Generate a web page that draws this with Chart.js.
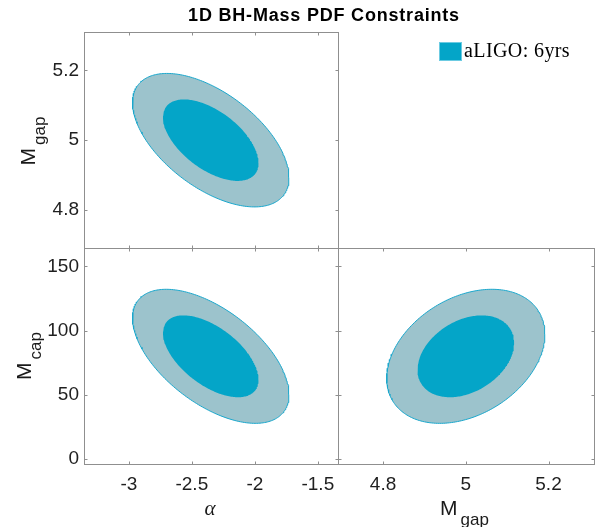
<!DOCTYPE html>
<html>
<head>
<meta charset="utf-8">
<title>1D BH-Mass PDF Constraints</title>
<script src="https://cdn.jsdelivr.net/npm/chart.js@4.4.1/dist/chart.umd.min.js"></script>
<style>
  body { margin: 0; background: #fff; }
  #wrap { position: relative; width: 597px; height: 527px; overflow: hidden; font-family: "Liberation Sans", Arial, sans-serif; }
  canvas { position: absolute; }
  .txt { position: absolute; white-space: nowrap; color: #1a1a1a; }
  .title { left: 324px; top: 6px; transform: translateX(-50%); font-weight: bold; font-size: 18px; line-height: 18px; letter-spacing: 0.8px; color: #000; }
  .mlab { font-size: 21px; line-height: 21px; }
  .mlab .sub { font-size: 17px; position: relative; top: 10px; margin-left: 3px; }
  .rot { transform: translate(-50%, -50%) rotate(-90deg); }
  .alpha { font-family: "Liberation Serif", serif; font-style: italic; font-size: 21px; line-height: 21px; transform: translateX(-50%); }
  .legbox { position: absolute; left: 439px; top: 42px; width: 23px; height: 19px; box-sizing: border-box; background: #04a5c8; border: 1px solid #6ccbe2; }
  .legtxt { left: 464px; top: 40px; font-family: "Liberation Serif", serif; font-size: 20px; line-height: 20px; letter-spacing: 0.4px; color: #000; }
</style>
</head>
<body>
<div id="wrap">
  <canvas id="cTL" width="360" height="270" style="left:0;top:0"></canvas>
  <canvas id="cBL" width="360" height="301" style="left:0;top:226px"></canvas>
  <canvas id="cBR" width="281" height="301" style="left:316px;top:226px"></canvas>

  <div class="txt title">1D BH-Mass PDF Constraints</div>
  <div class="txt mlab rot" style="left:28px;top:141px">M<span class="sub">gap</span></div>
  <div class="txt mlab rot" style="left:24px;top:356px">M<span class="sub">cap</span></div>
  <div class="txt mlab" style="left:440px;top:497px">M<span class="sub">gap</span></div>
  <div class="txt alpha" style="left:210px;top:498px">α</div>
  <div class="legbox"></div>
  <div class="txt legtxt">aLIGO: 6yrs</div>
</div>

<script>
// parameters: alpha, M_gap, M_cap
const paramNames = ['alpha', 'Mgap', 'Mcap'];
const paramCenters = [-2.35, 5.0, 80];
const paramSigmas = [0.25, 0.077, 21];

// correlation coefficients
const corrAlphaGap = -0.56;
const corrAlphaCap = -0.57;
const corrGapCap = 0.33;

// delta chi^2 for 2D 68% / 95% contours
const contourLevels = [2.30, 6.17];

// axes
const alphaRange = [-3.356, -1.34];
const gapRange = [4.691, 5.31];
const capRange = [-3.8, 164.3];
const alphaTicks = [-3, -2.5, -2, -1.5];
const alphaTickLabels = ['-3', '-2.5', '-2', '-1.5'];
const gapTicks = [4.8, 5, 5.2];
const gapTickLabels = ['4.8', '5', '5.2'];
const capTicks = [0, 50, 100, 150];
const capTickLabels = ['0', '50', '100', '150'];

const innerColor = '#04a5c8';
const outerColor = '#9cc3cc';
const edgeColor = '#1aa7cc';
const axisColor = '#8f8f8f';
const labelColor = '#1f1f1f';
const tickFont = { family: '"Liberation Sans", Arial, sans-serif', size: 19 };

// contour outline for a pair of parameters
function ellipsePoints(ix, iy, rho, level) {
  const pts = [];
  const k = Math.sqrt(level);
  const sx = paramSigmas[ix], sy = paramSigmas[iy];
  const mx = paramCenters[ix], my = paramCenters[iy];
  const s = Math.sqrt(1 - rho * rho);
  for (let i = 0; i <= 240; i++) {
    const t = i / 240 * 2 * Math.PI;
    pts.push({
      x: mx + k * sx * Math.cos(t),
      y: my + k * sy * (rho * Math.cos(t) + s * Math.sin(t))
    });
  }
  return pts;
}

function contourDatasets(ix, iy, rho) {
  return [
    {
      data: ellipsePoints(ix, iy, rho, contourLevels[0]),
      showLine: true, fill: 'shape', tension: 0,
      backgroundColor: innerColor, borderWidth: 0, pointRadius: 0
    },
    {
      data: ellipsePoints(ix, iy, rho, contourLevels[1]),
      showLine: true, fill: 'shape', tension: 0,
      backgroundColor: outerColor, borderColor: edgeColor, borderWidth: 1, pointRadius: 0
    }
  ];
}

// box with inward ticks on all sides
const boxPlugin = {
  id: 'box',
  afterDraw(chart) {
    const { ctx, chartArea: a, scales: { x, y } } = chart;
    const L = Math.round(a.left) + 0.5, R = Math.round(a.right) + 0.5;
    const T = Math.round(a.top) + 0.5, B = Math.round(a.bottom) + 0.5;
    const len = 3;
    ctx.save();
    ctx.strokeStyle = axisColor;
    ctx.lineWidth = 1;
    ctx.strokeRect(L, T, R - L, B - T);
    ctx.beginPath();
    x.ticks.forEach(t => {
      const px = Math.round(x.getPixelForValue(t.value)) + 0.5;
      ctx.moveTo(px, B); ctx.lineTo(px, B - len);
      ctx.moveTo(px, T); ctx.lineTo(px, T + len);
    });
    y.ticks.forEach(t => {
      const py = Math.round(y.getPixelForValue(t.value)) + 0.5;
      ctx.moveTo(L, py); ctx.lineTo(L + len, py);
      ctx.moveTo(R, py); ctx.lineTo(R - len, py);
    });
    ctx.stroke();
    ctx.restore();
  }
};

function axis(range, tickVals, tickLabels, showLabels, size, isX) {
  return {
    type: 'linear',
    min: range[0],
    max: range[1],
    afterBuildTicks: s => { s.ticks = tickVals.map(v => ({ value: v })); },
    afterFit: s => { if (isX) s.height = size; else s.width = size; },
    grid: { display: false, drawTicks: false },
    border: { display: false },
    ticks: {
      display: showLabels,
      autoSkip: false,
      maxRotation: 0,
      padding: isX ? 9 : 5,
      color: labelColor,
      font: tickFont,
      callback: (v, i) => tickLabels[i]
    }
  };
}

function makePanel(id, datasets, xAxis, yAxis, padding) {
  return new Chart(document.getElementById(id), {
    type: 'scatter',
    data: { datasets: datasets },
    options: {
      responsive: false,
      animation: false,
      devicePixelRatio: 1,
      layout: { padding: padding },
      plugins: { legend: { display: false }, tooltip: { enabled: false } },
      scales: { x: xAxis, y: yAxis }
    },
    plugins: [boxPlugin]
  });
}

// alpha vs M_gap
makePanel('cTL', contourDatasets(0, 1, corrAlphaGap),
  axis(alphaRange, alphaTicks, alphaTickLabels, false, 22, true),
  axis(gapRange, gapTicks, gapTickLabels, true, 84, false),
  { top: 32, right: 22, left: 0, bottom: 0 });

// alpha vs M_cap
makePanel('cBL', contourDatasets(0, 2, corrAlphaCap),
  axis(alphaRange, alphaTicks, alphaTickLabels, true, 63, true),
  axis(capRange, capTicks, capTickLabels, true, 84, false),
  { top: 22, right: 22, left: 0, bottom: 0 });

// M_gap vs M_cap
makePanel('cBR', contourDatasets(1, 2, corrGapCap),
  axis(gapRange, gapTicks, gapTickLabels, true, 63, true),
  axis(capRange, capTicks, capTickLabels, false, 22, false),
  { top: 22, right: 3, left: 0, bottom: 0 });
</script>
</body>
</html>
